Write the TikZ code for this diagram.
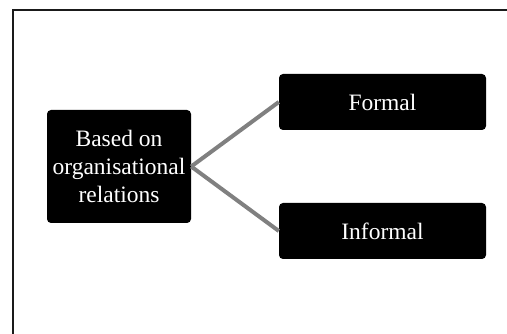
\documentclass[tikz,border=0pt]{standalone}
\usepackage{fontspec}
\setmainfont{Liberation Serif}
\usepackage{xcolor}
\usepackage{tikz}
\usetikzlibrary{positioning}
\definecolor{relboxfill}{HTML}{000000}
\definecolor{relline}{HTML}{808080}
\definecolor{relframe}{HTML}{1A1A1A}

\tikzset{
  relbox/.style={fill=relboxfill, text=white, rounded corners=4pt, align=center, inner sep=2pt,
    font=\fontsize{23.5}{28}\selectfont},
  rellink/.style={draw=relline, line width=4pt}
}

\begin{document}
\begin{tikzpicture}[x=1pt, y=-1pt]
    \useasboundingbox (0,0) rectangle (507,334);
    \clip (0,0) rectangle (507,334);
    \draw[relframe, line width=2pt] (13,10) rectangle (530,360);

    \node[relbox, minimum width=144pt, minimum height=113pt] (basis) at (119,166.5) {Based on\\organisational\\relations};
    \node[relbox, minimum width=207pt, minimum height=56pt] (formal) at (382.5,102) {Formal};
    \node[relbox, minimum width=207pt, minimum height=56pt] (informal) at (382.5,231) {Informal};

    \draw[rellink] (basis.east) -- (formal.west);
    \draw[rellink] (basis.east) -- (informal.west);
  \end{tikzpicture}
\end{document}
